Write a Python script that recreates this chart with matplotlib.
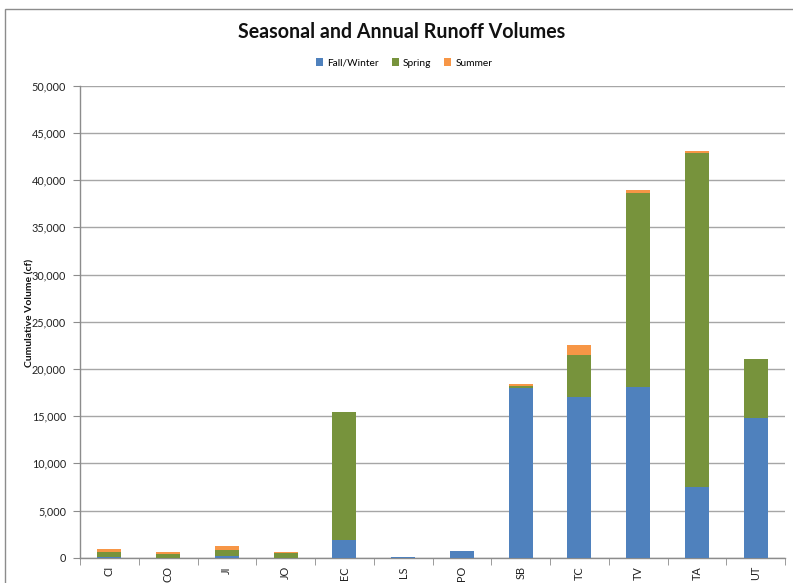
import matplotlib
matplotlib.use("Agg")
import matplotlib.pyplot as plt
import numpy as np
from matplotlib.patches import Rectangle
from matplotlib.ticker import FuncFormatter, FixedLocator

plt.rcParams['font.family'] = ['Lato', 'DejaVu Sans']

sites = ["CI", "CO", "JI", "JO", "EC", "LS", "PO", "SB", "TC", "TV", "TA", "UT"]
fall_winter = [50, 20, 170, 20, 1850, 80, 700, 17950, 17000, 18080, 7460, 14830]
spring = [550, 400, 680, 430, 13550, 0, 0, 270, 4480, 20520, 35440, 6220]
summer = [350, 140, 420, 110, 50, 0, 0, 150, 1090, 350, 180, 30]

series = [("Fall/Winter", fall_winter, "#4F81BD"),
          ("Spring", spring, "#77933C"),
          ("Summer", summer, "#F79646")]

W, H = 793, 583
fig = plt.figure(figsize=(W / 100, H / 100), dpi=100)

# outer chart frame
fig.patches.append(Rectangle((5 / W, -0.1), 1.2, (H - 9) / H + 0.1,
                             transform=fig.transFigure, fill=False,
                             edgecolor="#8C8C8C", linewidth=1.0))

ax = fig.add_axes([80 / W, (H - 557.7) / H, 705 / W, 472 / H])

x = np.arange(len(sites))
bottom = np.zeros(len(sites))
for name, vals, color in series:
    vals = np.array(vals, dtype=float)
    ax.bar(x, vals, width=0.41, bottom=bottom, color=color, label=name,
           linewidth=0, zorder=3)
    bottom += vals

ax.set_xlim(-0.5, len(sites) - 0.5)
ax.set_ylim(0, 50000)
ax.set_yticks(np.arange(0, 50001, 5000))
ax.yaxis.set_major_formatter(FuncFormatter(lambda v, p: f"{int(v):,}"))
ax.grid(axis="y", color="#A6A6A6", linewidth=1.0, zorder=0)

ax.set_xticks(x)
ax.set_xticklabels(sites, rotation=90, fontsize=7.8, color="#222222")
ax.xaxis.set_minor_locator(FixedLocator(np.arange(-0.5, len(sites), 1.0)))
ax.tick_params(axis="x", which="major", length=0, pad=6)
ax.tick_params(axis="x", which="minor", length=5, color="#8C8C8C", direction="out")
ax.tick_params(axis="y", length=5, color="#8C8C8C", labelsize=7.8,
               labelcolor="#222222", pad=5)

for s in ("top", "right"):
    ax.spines[s].set_visible(False)
for s in ("left", "bottom"):
    ax.spines[s].set_color("#8C8C8C")
    ax.spines[s].set_linewidth(1.0)

fig.text(30 / W, 1 - 313 / H, "Cumulative Volume (cf)", rotation=90,
         ha="center", va="center", fontsize=7.5, fontweight="bold", color="#111111")

fig.text(401.5 / W, 1 - 32 / H, "Seasonal and Annual Runoff Volumes",
         ha="center", va="center", fontsize=14.1, fontweight="bold", color="#111111")

fig.legend(loc="center", bbox_to_anchor=(404 / W, 1 - 63 / H), ncol=3,
           frameon=False, fontsize=7.3, handlelength=0.7, handleheight=0.7,
           handletextpad=0.4, columnspacing=1.3)

fig.savefig("out.png", dpi=100)
